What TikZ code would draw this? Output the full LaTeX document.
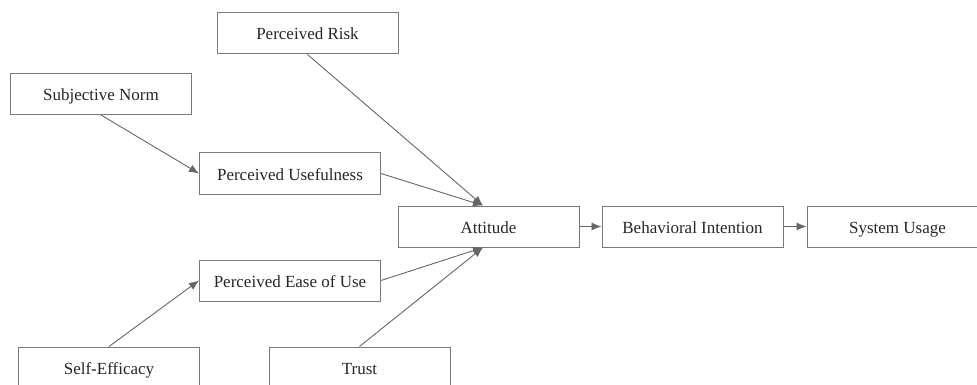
\documentclass[tikz,border=0pt]{standalone}
\usepackage{fontspec}
\setmainfont{Liberation Serif}
\usetikzlibrary{positioning, arrows.meta}

\definecolor{boxgray}{HTML}{7A7A7A}
\definecolor{linegray}{HTML}{666666}

\tikzset{
  factor/.style={draw=boxgray, line width=1pt, minimum width=181pt, minimum height=41pt,
    inner sep=0pt, text height=13pt, text depth=0pt,
    font=\fontsize{17}{20}\selectfont, text=black!85},
  link/.style={draw=linegray, line width=0.9pt, -{Latex[length=10pt,width=8pt]}}
}

\begin{document}
\begin{tikzpicture}[x=1pt, y=-1pt]
\clip (0, 0) rectangle (977, 385);

\node[factor] (risk) at (307.5, 33.5){Perceived Risk};
\node[factor] (norm) at (101, 94){Subjective Norm};
\node[factor] (useful) at (290, 173.5){Perceived Usefulness};
\node[factor] (ease) at (290, 280.5){Perceived Ease of Use};
\node[factor] (att) at (488.5, 226.5){Attitude};
\node[factor] (intent) at (692.5, 226.5){Behavioral Intention};
\node[factor] (usage) at (897.5, 226.5){System Usage};
\node[factor] (efficacy) at (109, 367.5){Self-Efficacy};
\node[factor] (trust) at (359.5, 367.5){Trust};

\coordinate (attin) at ([xshift=-5.5pt]att.north);
\coordinate (attbot) at ([xshift=-5.5pt]att.south);

\draw[link] (norm.south) -- (useful.west);
\draw[link] (efficacy.north) -- (ease.west);
\draw[link] (risk.south) -- (attin);
\draw[link] (useful.east) -- (attin);
\draw[link] (ease.east) -- (attbot);
\draw[link] (trust.north) -- (attbot);
\draw[link] (att.east) -- (intent.west);
\draw[link] (intent.east) -- (usage.west);
\end{tikzpicture}
\end{document}
